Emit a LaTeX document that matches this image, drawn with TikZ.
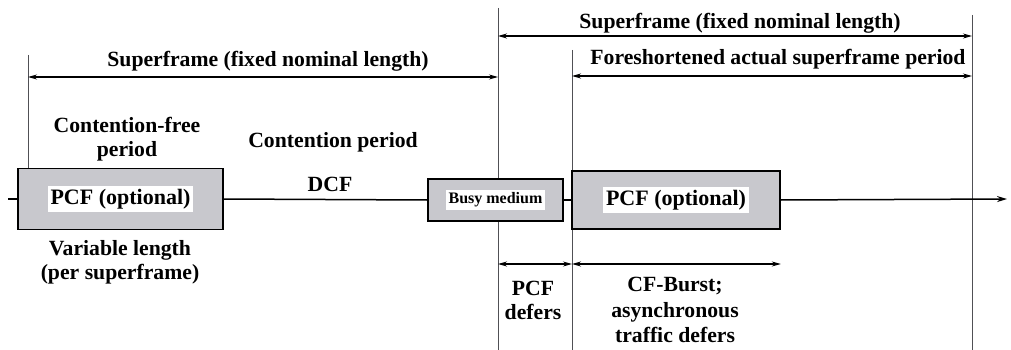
\documentclass[tikz,border=0pt]{standalone}
\usepackage{fontspec}
\setmainfont{Liberation Serif}
\usetikzlibrary{arrows.meta}
\definecolor{boxgray}{RGB}{200,200,205}
\definecolor{vline}{RGB}{80,80,85}
\tikzset{
  lbl/.style={font=\fontsize{21.7}{24}\selectfont\bfseries, align=center, inner sep=0pt},
  graybox/.style={draw=black, line width=1.6pt, fill=boxgray, inner sep=0pt},
  whitelbl/.style={fill=white, inner sep=3pt, font=\fontsize{22}{24}\selectfont\bfseries},
  vert/.style={draw=vline, line width=0.9pt},
  dim/.style={draw=black, line width=1.1pt, {Stealth[length=9pt,width=5pt]}-{Stealth[length=9pt,width=5pt]}},
  tl/.style={draw=black, line width=1.5pt},
}
\begin{document}
\begin{tikzpicture}[x=1pt,y=-1pt]
\useasboundingbox (0,0) rectangle (1011,350);
% vertical guide lines
\coordinate (vAtop) at (28,55);
\coordinate (vBtop) at (498,8);
\coordinate (vBbot) at (498,350);
\coordinate (vCtop) at (572,50);
\coordinate (vCbot) at (572,350);
\coordinate (vDtop) at (972,15);
\coordinate (vDbot) at (972,350);
\coordinate (tlstart) at (8,199);
\coordinate (tlend) at (1007,199);
\draw[vert] (vBtop) -- (vBbot);
\draw[vert] (vCtop) -- (vCbot);
\draw[vert] (vDtop) -- (vDbot);
% boxes
\node[graybox, minimum width=205pt, minimum height=61pt] (b1) at (120.5,199) {};
\node[whitelbl] (b1t) at (b1) {PCF (optional)};
\node[graybox, minimum width=135pt, minimum height=42pt] (busy) at (495.5,200) {};
\node[whitelbl, font=\fontsize{16}{19}\selectfont\bfseries, inner sep=3pt] (busyt) at (busy) {Busy medium};
\node[graybox, minimum width=208pt, minimum height=58pt] (b2) at (676,200) {};
\node[whitelbl] (b2t) at (b2) {PCF (optional)};
\draw[vert] (vAtop) -- (vAtop |- b1.north);
% timeline
\draw[tl] (tlstart) -- (b1.west);
\draw[tl] (b1.east) -- (busy.west);
\draw[tl] (busy.east) -- (b2.west);
\draw[tl, -{Stealth[length=10pt,width=6pt]}] (b2.east) -- (tlend);
% dimension arrows
\draw[dim] (vAtop |- 0,77) -- (vBtop |- 0,77);
\draw[dim] (vBtop |- 0,36) -- (vDtop |- 0,36);
\draw[dim] (vCtop |- 0,76) -- (vDtop |- 0,76);
\draw[dim] (vBtop |- 0,264) -- (vCtop |- 0,264);
\draw[dim] (vCtop |- 0,264) -- (b2.east |- 0,264);
% labels
\node[lbl] (sf1) at (268,61) {Superframe (fixed nominal length)};
\node[lbl] (sf2) at (740,23) {Superframe (fixed nominal length)};
\node[lbl] (fs) at (778,59) {Foreshortened actual superframe period};
\node[lbl] (cfp) at (127,139) {Contention-free\\period};
\node[lbl] (cp) at (333,142) {Contention period};
\node[lbl] (dcf) at (330,184) {DCF};
\node[lbl] (vl) at (120,262) {Variable length\\(per superframe)};
\node[lbl] (pd) at (533,300) {PCF\\defers};
\node[lbl, font=\fontsize{21.7}{25.5}\selectfont\bfseries] (cfb) at (675,310) {CF-Burst;\\asynchronous\\traffic defers};
\end{tikzpicture}
\end{document}
